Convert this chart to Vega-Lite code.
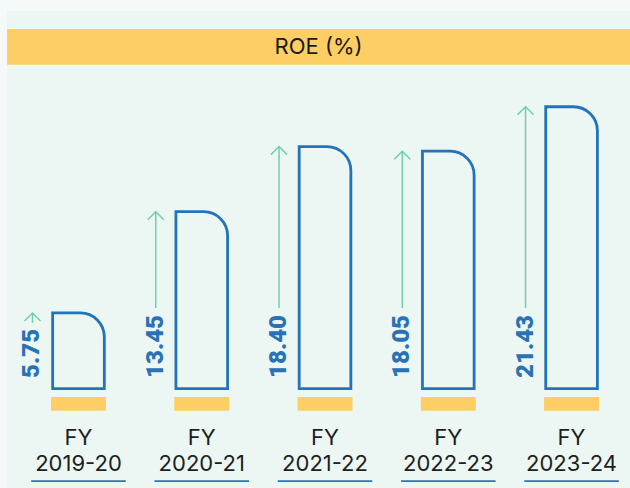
{
  "$schema": "https://vega.github.io/schema/vega-lite/v6.json",
  "width": 630,
  "height": 488,
  "autosize": {"type": "fit", "contains": "padding"},
  "padding": {"left": 7, "top": 11, "right": 0, "bottom": 0},
  "background": "#f6f9fa",
  "config": {"view": {"fill": "#ecf6f2", "stroke": null}},
  "data": {"values": [
    {"fy": "FY", "year": "2019-20", "roe": 5.75},
    {"fy": "FY", "year": "2020-21", "roe": 13.45},
    {"fy": "FY", "year": "2021-22", "roe": 18.40},
    {"fy": "FY", "year": "2022-23", "roe": 18.05},
    {"fy": "FY", "year": "2023-24", "roe": 21.43}
  ]},
  "encoding": {
    "x": {"field": "year", "type": "nominal", "sort": null, "axis": null,
      "scale": {"type": "band", "paddingInner": 0.554, "paddingOuter": 0.304, "align": 0.587}}
  },
  "layer": [
    {
      "data": {"values": [{"title": "ROE (%)"}]},
      "mark": {"type": "rect", "color": "#fdce63"},
      "encoding": {
        "x": null,
        "y": {"datum": 27.35, "type": "quantitative", "axis": null,
          "scale": {"domain": [-7.56, 28.71], "nice": false, "zero": false}},
        "y2": {"datum": 24.63}
      }
    },
    {
      "data": {"values": [{"title": "ROE (%)"}]},
      "mark": {"type": "text", "font": "Inter", "fontSize": 22, "color": "#1a1a1a", "baseline": "middle", "align": "center"},
      "encoding": {
        "x": null,
        "y": {"datum": 25.98, "type": "quantitative"},
        "text": {"field": "title"}
      }
    },
    {
      "mark": {"type": "bar", "fill": "#ecf6f2", "fillOpacity": 0, "stroke": "#2373ba", "strokeWidth": 2.8, "cornerRadiusTopRight": 24, "width": {"band": 0.94}},
      "encoding": {
        "y": {"field": "roe", "type": "quantitative", "stack": null},
        "y2": {"datum": 0}
      }
    },
    {
      "mark": {"type": "bar", "color": "#fdce63", "width": {"band": 1}},
      "encoding": {
        "y": {"datum": -0.64, "type": "quantitative"},
        "y2": {"datum": -1.68}
      }
    },
    {
      "transform": [{"filter": "datum.roe > 6.13"}],
      "mark": {"type": "rule", "color": "#6fcfb0", "strokeWidth": 1.5, "xOffset": -46},
      "encoding": {
        "y": {"field": "roe", "type": "quantitative"},
        "y2": {"datum": 6.13}
      }
    },
    {
      "transform": [{"filter": "datum.roe <= 6.13"}],
      "mark": {"type": "rule", "color": "#6fcfb0", "strokeWidth": 1.5, "xOffset": -46},
      "encoding": {
        "y": {"field": "roe", "type": "quantitative"},
        "y2": {"datum": 4.99}
      }
    },
    {
      "mark": {"type": "point", "shape": "M-1,1L0,0L1,1", "filled": false, "stroke": "#6fcfb0", "strokeWidth": 1.5, "size": 260, "opacity": 1, "xOffset": -46},
      "encoding": {
        "y": {"field": "roe", "type": "quantitative"}
      }
    },
    {
      "mark": {"type": "text", "font": "Roboto", "fontWeight": 900, "fontSize": 24, "color": "#2a72b6", "angle": 270, "align": "left", "baseline": "middle", "xOffset": -46},
      "encoding": {
        "y": {"datum": 0.81, "type": "quantitative"},
        "text": {"field": "roe", "type": "quantitative", "format": ".2f"}
      }
    },
    {
      "mark": {"type": "text", "font": "Inter", "fontSize": 22, "color": "#1e1e1e", "align": "center", "baseline": "middle"},
      "encoding": {
        "y": {"datum": -3.79, "type": "quantitative"},
        "text": {"field": "fy"}
      }
    },
    {
      "mark": {"type": "text", "font": "Inter", "fontSize": 22, "color": "#1e1e1e", "align": "center", "baseline": "middle"},
      "encoding": {
        "y": {"datum": -5.73, "type": "quantitative"},
        "text": {"field": "year"}
      }
    },
    {
      "mark": {"type": "bar", "color": "#2b75b9", "width": {"band": 1.72}},
      "encoding": {
        "y": {"datum": -6.97, "type": "quantitative"},
        "y2": {"datum": -7.11}
      }
    }
  ]
}
